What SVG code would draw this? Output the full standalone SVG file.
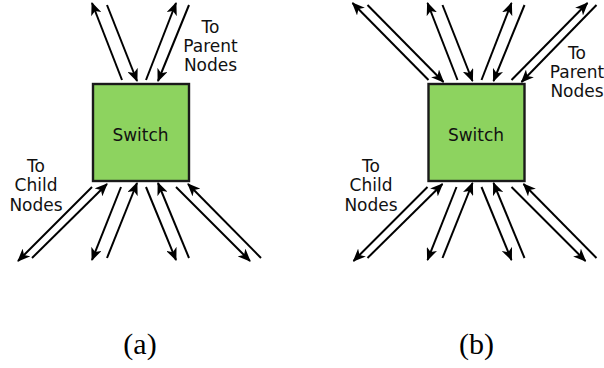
<svg xmlns="http://www.w3.org/2000/svg" width="604" height="368" viewBox="0 0 604 368">
<style>
.box{fill:#8dd35f;stroke:#1a1a1a;stroke-width:2.4}
.lbl{font-family:"DejaVu Sans","Verdana",sans-serif;font-size:17px;fill:#111;text-anchor:middle}
.cap{font-family:"Liberation Serif","Times New Roman",serif;font-size:30px;fill:#000;text-anchor:middle}
.c path{fill:none;stroke:#000;stroke-width:2;marker-end:url(#ah)}
</style>
<defs>
<marker id="ah" viewBox="0 0 13 11" markerWidth="13" markerHeight="11" refX="12" refY="5.5" orient="auto" markerUnits="userSpaceOnUse">
<path d="M0,0 L13,5.5 L0,11 L3.5,5.5 z" fill="#000"/>
</marker>
</defs>
<rect width="604" height="368" fill="#fff"/>
<g id="switch-a"><rect class="box" x="93" y="84" width="96" height="97"/><text class="lbl" x="140.5" y="140.5">Switch</text></g>
<g id="parent-label-a"><text class="lbl" x="210.5" y="32.5">To</text><text class="lbl" x="210.5" y="51.5">Parent</text><text class="lbl" x="210.5" y="70.5">Nodes</text></g>
<g id="child-label-a"><text class="lbl" x="36" y="172">To</text><text class="lbl" x="36" y="191">Child</text><text class="lbl" x="36" y="210.5">Nodes</text></g>
<g id="switch-b"><rect class="box" x="428.5" y="84" width="96" height="97"/><text class="lbl" x="476" y="140.5">Switch</text></g>
<g id="parent-label-b"><text class="lbl" x="577" y="58.5">To</text><text class="lbl" x="577" y="77.5">Parent</text><text class="lbl" x="577" y="96.5">Nodes</text></g>
<g id="child-label-b"><text class="lbl" x="371" y="172">To</text><text class="lbl" x="371" y="191">Child</text><text class="lbl" x="371" y="210.5">Nodes</text></g>
<g id="caption-a"><text class="cap" x="140" y="354">(a)</text></g>
<g id="caption-b"><text class="cap" x="476.5" y="354">(b)</text></g>
<g id="connectors" class="c">
<g id="conn-a">
<path d="M122,80 L92,3"/><path d="M107,5 L137,81"/>
<path d="M146,80 L176,3"/><path d="M189,5 L158,81"/>
<path d="M92,187 L18,261"/><path d="M32,258 L107,184"/>
<path d="M121,187 L92,260"/><path d="M107,258 L137,183"/>
<path d="M146,187 L176,260"/><path d="M189,258 L158,183"/>
<path d="M176,187 L250,261"/><path d="M261,258 L188,184"/>
</g>
<g id="conn-b">
<path d="M428.5,80 L352.5,3"/><path d="M367.5,5 L443.5,82"/>
<path d="M457.5,80 L427.5,3"/><path d="M442.5,5 L472.5,81"/>
<path d="M481.5,80 L511.5,3"/><path d="M524.5,5 L493.5,81"/>
<path d="M511.5,80 L587.5,3"/><path d="M596.5,5 L521.5,82"/>
<path d="M427.5,187 L353.5,261"/><path d="M367.5,258 L442.5,184"/>
<path d="M456.5,187 L427.5,260"/><path d="M442.5,258 L472.5,183"/>
<path d="M481.5,187 L511.5,260"/><path d="M524.5,258 L493.5,183"/>
<path d="M511.5,187 L585.5,261"/><path d="M596.5,258 L523.5,184"/>
</g>
</g>
</svg>
